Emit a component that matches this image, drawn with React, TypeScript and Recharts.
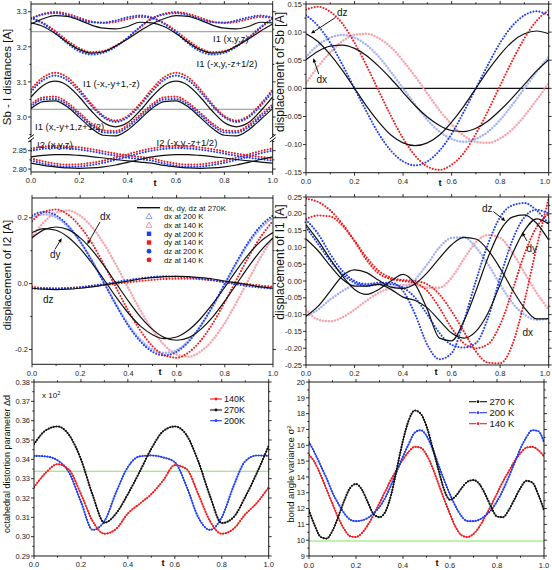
import React from "react";
import { LineChart, Line, XAxis, YAxis, ReferenceLine } from "recharts";

const FONT = "'Liberation Sans', Arial, Helvetica, sans-serif";
const RED = "#f01c1c";
const BLUE = "#1f3ff0";
const PINK = "#f6a4ad";
const LBLUE = "#a4b3f4";
const BLACK = "#111111";
const GREEN = "#86e35e";

// modulation phase t
const T21 = [0, 0.05, 0.1, 0.15, 0.2, 0.25, 0.3, 0.35, 0.4, 0.45, 0.5, 0.55, 0.6, 0.65, 0.7, 0.75, 0.8, 0.85, 0.9, 0.95, 1];
const T41 = [0, 0.025, 0.05, 0.075, 0.1, 0.125, 0.15, 0.175, 0.2, 0.225, 0.25, 0.275, 0.3, 0.325, 0.35, 0.375, 0.4, 0.425, 0.45, 0.475, 0.5, 0.525, 0.55, 0.575, 0.6, 0.625, 0.65, 0.675, 0.7, 0.725, 0.75, 0.775, 0.8, 0.825, 0.85, 0.875, 0.9, 0.925, 0.95, 0.975, 1];
const X_TICKS = [0, 0.1, 0.2, 0.3, 0.4, 0.5, 0.6, 0.7, 0.8, 0.9, 1];
const X_MAJOR = [0, 0.2, 0.4, 0.6, 0.8, 1];

// panel 1: Sb - I distances
const i1xyz_270 = [3.265, 3.28, 3.289, 3.287, 3.276, 3.262, 3.253, 3.251, 3.258, 3.27, 3.268, 3.258, 3.238, 3.213, 3.192, 3.182, 3.186, 3.202, 3.222, 3.245, 3.265];
const i1xyz_140 = [3.281, 3.294, 3.299, 3.294, 3.283, 3.272, 3.268, 3.271, 3.279, 3.285, 3.282, 3.268, 3.245, 3.218, 3.196, 3.185, 3.188, 3.203, 3.225, 3.254, 3.281];
const i1xyz_200 = [3.28, 3.292, 3.296, 3.29, 3.279, 3.27, 3.269, 3.275, 3.284, 3.289, 3.283, 3.266, 3.24, 3.21, 3.187, 3.178, 3.183, 3.2, 3.226, 3.256, 3.28];
const i1mz_270 = [3.268, 3.258, 3.238, 3.213, 3.192, 3.182, 3.186, 3.202, 3.222, 3.245, 3.265, 3.28, 3.289, 3.287, 3.276, 3.262, 3.253, 3.251, 3.258, 3.27, 3.268];
const i1mz_140 = [3.282, 3.268, 3.245, 3.218, 3.196, 3.185, 3.188, 3.203, 3.225, 3.254, 3.281, 3.294, 3.299, 3.294, 3.283, 3.272, 3.268, 3.271, 3.279, 3.285, 3.282];
const i1mz_200 = [3.283, 3.266, 3.24, 3.21, 3.187, 3.178, 3.183, 3.2, 3.226, 3.256, 3.28, 3.292, 3.296, 3.29, 3.279, 3.27, 3.269, 3.275, 3.284, 3.289, 3.283];
const i1inv_270 = [3.057, 3.09, 3.102, 3.09, 3.057, 3.017, 2.984, 2.972, 2.984, 3.017, 3.057, 3.09, 3.102, 3.09, 3.057, 3.017, 2.984, 2.972, 2.984, 3.017, 3.057];
const i1inv_140 = [3.079, 3.113, 3.126, 3.113, 3.079, 3.037, 3.003, 2.99, 3.003, 3.037, 3.079, 3.113, 3.126, 3.113, 3.079, 3.037, 3.003, 2.99, 3.003, 3.037, 3.079];
const i1inv_200 = [3.072, 3.105, 3.118, 3.105, 3.072, 3.032, 2.999, 2.986, 2.999, 3.032, 3.072, 3.105, 3.118, 3.105, 3.072, 3.032, 2.999, 2.986, 2.999, 3.032, 3.072];
const i1gl_270 = [3.024, 3.044, 3.046, 3.029, 2.999, 2.968, 2.948, 2.946, 2.963, 2.993, 3.024, 3.044, 3.046, 3.029, 2.999, 2.968, 2.948, 2.946, 2.963, 2.993, 3.024];
const i1gl_140 = [3.036, 3.056, 3.058, 3.041, 3.012, 2.982, 2.962, 2.96, 2.977, 3.006, 3.036, 3.056, 3.058, 3.041, 3.012, 2.982, 2.962, 2.96, 2.977, 3.006, 3.036];
const i1gl_200 = [3.03, 3.05, 3.051, 3.035, 3.006, 2.976, 2.956, 2.955, 2.971, 3.0, 3.03, 3.05, 3.051, 3.035, 3.006, 2.976, 2.956, 2.955, 2.971, 3.0, 3.03];
const i2xyz_270 = [2.833, 2.837, 2.839, 2.839, 2.837, 2.834, 2.83, 2.826, 2.822, 2.819, 2.816, 2.81, 2.806, 2.803, 2.802, 2.803, 2.806, 2.811, 2.818, 2.826, 2.833];
const i2xyz_140 = [2.856, 2.861, 2.863, 2.862, 2.859, 2.854, 2.848, 2.842, 2.837, 2.833, 2.829, 2.821, 2.815, 2.812, 2.813, 2.817, 2.823, 2.831, 2.84, 2.849, 2.856];
const i2xyz_200 = [2.85, 2.855, 2.857, 2.856, 2.853, 2.848, 2.842, 2.836, 2.831, 2.827, 2.823, 2.815, 2.809, 2.806, 2.807, 2.811, 2.817, 2.825, 2.834, 2.843, 2.85];
const i2mz_270 = [2.816, 2.81, 2.806, 2.803, 2.802, 2.803, 2.806, 2.811, 2.818, 2.826, 2.833, 2.837, 2.839, 2.839, 2.837, 2.834, 2.83, 2.826, 2.822, 2.819, 2.816];
const i2mz_140 = [2.829, 2.821, 2.815, 2.812, 2.813, 2.817, 2.823, 2.831, 2.84, 2.849, 2.856, 2.861, 2.863, 2.862, 2.859, 2.854, 2.848, 2.842, 2.837, 2.833, 2.829];
const i2mz_200 = [2.823, 2.815, 2.809, 2.806, 2.807, 2.811, 2.817, 2.825, 2.834, 2.843, 2.85, 2.855, 2.857, 2.856, 2.853, 2.848, 2.842, 2.836, 2.831, 2.827, 2.823];
const DIST_REF = [3.243, 3.022];
const P1_UP_TICKS = [2.95, 3.0, 3.05, 3.1, 3.15, 3.2, 3.25, 3.3];
const P1_UP_MAJOR = [3.0, 3.1, 3.2, 3.3];
const P1_LO_TICKS = [2.8, 2.825, 2.85, 2.875];
const P1_LO_MAJOR = [2.8, 2.85];

// panel 2: displacement of Sb
const sb_dz270 = [0.097, 0.083, 0.06, 0.032, 0, -0.032, -0.06, -0.083, -0.097, -0.102, -0.097, -0.083, -0.06, -0.032, 0, 0.032, 0.06, 0.083, 0.097, 0.102, 0.097];
const sb_dx270 = [0.051, 0.066, 0.075, 0.077, 0.071, 0.058, 0.039, 0.017, -0.007, -0.031, -0.051, -0.066, -0.075, -0.077, -0.071, -0.058, -0.039, -0.017, 0.007, 0.031, 0.051];
const sb_dz140 = [0.14, 0.145, 0.136, 0.115, 0.081, 0.04, -0.005, -0.049, -0.089, -0.12, -0.139, -0.145, -0.136, -0.115, -0.081, -0.04, 0.005, 0.049, 0.089, 0.12, 0.139];
const sb_dz200 = [0.13, 0.111, 0.081, 0.042, 0, -0.042, -0.081, -0.111, -0.13, -0.137, -0.13, -0.111, -0.081, -0.042, 0, 0.042, 0.081, 0.111, 0.13, 0.137, 0.13];
const sb_dx200 = [0.056, 0.077, 0.09, 0.095, 0.09, 0.077, 0.056, 0.029, 0, -0.029, -0.056, -0.077, -0.09, -0.095, -0.09, -0.077, -0.056, -0.029, 0, 0.029, 0.056];
const sb_dx140 = [0.009, 0.039, 0.064, 0.084, 0.095, 0.097, 0.089, 0.073, 0.049, 0.021, -0.009, -0.039, -0.064, -0.084, -0.095, -0.097, -0.089, -0.073, -0.049, -0.021, 0.009];
const P2_TICKS = [-0.15, -0.125, -0.1, -0.075, -0.05, -0.025, 0, 0.025, 0.05, 0.075, 0.1, 0.125, 0.15];
const P2_MAJOR = [-0.15, -0.1, -0.05, 0, 0.05, 0.1, 0.15];

// panel 3: displacement of I2
const i2_dx270 = [0.139, 0.164, 0.172, 0.164, 0.139, 0.101, 0.053, 0, -0.053, -0.101, -0.139, -0.164, -0.172, -0.164, -0.139, -0.101, -0.053, 0, 0.053, 0.101, 0.139];
const i2_dy270 = [0.155, 0.167, 0.162, 0.141, 0.106, 0.061, 0.011, -0.042, -0.09, -0.129, -0.155, -0.167, -0.162, -0.141, -0.106, -0.061, -0.011, 0.042, 0.09, 0.129, 0.155];
const i2_dz270 = [-0.014, -0.017, -0.018, -0.017, -0.014, -0.01, -0.004, 0.002, 0.008, 0.014, 0.018, 0.021, 0.022, 0.021, 0.018, 0.014, 0.008, 0.002, -0.004, -0.01, -0.014];
const i2_dx200 = [0.202, 0.21, 0.201, 0.172, 0.127, 0.069, 0.003, -0.064, -0.124, -0.17, -0.2, -0.21, -0.202, -0.173, -0.128, -0.07, -0.004, 0.063, 0.123, 0.169, 0.2];
const i2_dx140 = [0.141, 0.187, 0.215, 0.222, 0.206, 0.171, 0.119, 0.055, -0.014, -0.082, -0.141, -0.187, -0.215, -0.222, -0.206, -0.171, -0.119, -0.055, 0.014, 0.082, 0.141];
const i2_dy200 = [0.207, 0.218, 0.207, 0.176, 0.128, 0.067, 0, -0.067, -0.128, -0.176, -0.207, -0.218, -0.207, -0.176, -0.128, -0.067, 0, 0.067, 0.128, 0.176, 0.207];
const i2_dy140 = [0.19, 0.218, 0.225, 0.209, 0.173, 0.121, 0.056, -0.014, -0.083, -0.143, -0.19, -0.218, -0.225, -0.209, -0.173, -0.121, -0.056, 0.014, 0.083, 0.143, 0.19];
const i2_dz200 = [-0.015, -0.016, -0.016, -0.014, -0.011, -0.006, -0.001, 0.005, 0.011, 0.016, 0.02, 0.022, 0.021, 0.019, 0.015, 0.01, 0.004, -0.002, -0.008, -0.012, -0.015];
const i2_dz140 = [-0.01, -0.013, -0.014, -0.013, -0.011, -0.008, -0.004, 0, 0.004, 0.008, 0.011, 0.014, 0.015, 0.015, 0.013, 0.01, 0.006, 0.002, -0.002, -0.006, -0.009];
const P3_TICKS = [-0.2, -0.1, 0, 0.1, 0.2];
const P3_MAJOR = [-0.2, 0, 0.2];

// panel 4: displacement of I1
const i1_dx270 = [-0.105, -0.075, -0.03, 0.015, 0.033, 0.025, 0.002, -0.018, -0.022, -0.008, 0.025, 0.068, 0.108, 0.13, 0.125, 0.092, 0.038, -0.025, -0.08, -0.113, -0.112];
const i1_dy270 = [0.125, 0.09, 0.045, 0.005, -0.015, -0.015, -0.01, -0.025, -0.048, -0.058, -0.08, -0.118, -0.155, -0.17, -0.15, -0.095, -0.01, 0.08, 0.15, 0.185, 0.17];
const i1_dz270 = [0.168, 0.12, 0.065, 0.015, -0.025, -0.04, -0.025, 0, 0.02, -0.01, -0.085, -0.17, -0.178, -0.12, -0.03, 0.07, 0.15, 0.19, 0.197, 0.172, 0.122];
const i1_dx200 = [-0.105, -0.085, -0.055, -0.03, -0.012, -0.008, -0.01, -0.018, -0.02, 0.005, 0.05, 0.1, 0.128, 0.13, 0.1, 0.05, -0.01, -0.065, -0.1, -0.115, -0.112];
const i1_dx140 = [-0.085, -0.115, -0.12, -0.108, -0.085, -0.058, -0.035, -0.02, -0.012, -0.012, -0.02, -0.02, 0.01, 0.065, 0.115, 0.137, 0.128, 0.085, 0.025, -0.035, -0.085];
const i1_dy200 = [0.16, 0.11, 0.06, 0.02, -0.005, -0.015, -0.01, -0.01, -0.02, -0.05, -0.1, -0.155, -0.19, -0.198, -0.185, -0.11, 0.01, 0.12, 0.19, 0.212, 0.2];
const i1_dy140 = [0.185, 0.195, 0.192, 0.165, 0.118, 0.062, 0.022, 0.006, 0, -0.006, -0.03, -0.08, -0.14, -0.185, -0.2, -0.188, -0.13, -0.03, 0.08, 0.16, 0.2];
const i1_dz200 = [0.182, 0.14, 0.08, 0.03, 0, -0.01, -0.005, -0.005, -0.03, -0.1, -0.19, -0.233, -0.215, -0.12, 0, 0.11, 0.19, 0.225, 0.232, 0.21, 0.17];
const i1_dz140 = [0.245, 0.235, 0.21, 0.17, 0.12, 0.07, 0.03, 0.01, 0.003, 0, -0.01, -0.04, -0.09, -0.15, -0.21, -0.243, -0.245, -0.19, -0.06, 0.1, 0.245];
const P4_TICKS = [-0.25, -0.225, -0.2, -0.175, -0.15, -0.125, -0.1, -0.075, -0.05, -0.025, 0, 0.025, 0.05, 0.075, 0.1, 0.125, 0.15, 0.175, 0.2, 0.225, 0.25];
const P4_MAJOR = [-0.25, -0.2, -0.15, -0.1, -0.05, 0, 0.05, 0.1, 0.15, 0.2, 0.25];

// panel 5: octahedral distortion parameter
const dist_140 = [0.3256, 0.333, 0.3375, 0.3345, 0.322, 0.308, 0.3015, 0.304, 0.312, 0.317, 0.322, 0.329, 0.337, 0.335, 0.322, 0.308, 0.3015, 0.304, 0.3115, 0.3175, 0.3256];
const dist_270 = [0.3478, 0.355, 0.357, 0.3525, 0.34, 0.3215, 0.3072, 0.312, 0.322, 0.3335, 0.3455, 0.3545, 0.357, 0.3525, 0.339, 0.321, 0.307, 0.31, 0.3205, 0.333, 0.347];
const dist_200 = [0.3418, 0.3415, 0.3395, 0.333, 0.318, 0.3035, 0.308, 0.323, 0.336, 0.3415, 0.342, 0.341, 0.3385, 0.326, 0.31, 0.3035, 0.31, 0.326, 0.339, 0.342, 0.3418];
const DIST_IDEAL = 0.3338;
const P5_TICKS = [0.29, 0.295, 0.3, 0.305, 0.31, 0.315, 0.32, 0.325, 0.33, 0.335, 0.34, 0.345, 0.35, 0.355, 0.36, 0.365, 0.37, 0.375, 0.38];
const P5_MAJOR = [0.29, 0.3, 0.31, 0.32, 0.33, 0.34, 0.35, 0.36, 0.37, 0.38];

// panel 6: bond angle variance
const bav_270 = [11.88, 10.9, 10.2, 10.1, 10.6, 11.5, 12.5, 13.3, 13.55, 13.2, 12.4, 11.65, 11.45, 11.8, 12.9, 14.6, 16.3, 17.6, 18.2, 18.0, 17.2, 15.9, 14.5, 13.2, 12.55, 12.8, 13.3, 13.7, 13.8, 13.55, 12.9, 12.1, 11.5, 11.45, 11.9, 12.6, 13.3, 13.75, 13.65, 12.9, 11.9];
const bav_200 = [16.2, 15.5, 14.7, 13.9, 13.0, 12.3, 11.7, 11.3, 11.2, 11.25, 11.4, 11.7, 12.1, 12.7, 13.5, 14.4, 15.3, 16.1, 16.8, 16.95, 16.6, 15.8, 14.8, 13.8, 12.9, 12.1, 11.5, 11.2, 11.2, 11.3, 11.55, 11.9, 12.45, 13.15, 14.0, 14.9, 15.8, 16.5, 16.95, 16.9, 16.2];
const bav_140 = [15.4, 14.9, 14.1, 13.2, 12.3, 11.4, 10.7, 10.25, 10.2, 10.45, 10.95, 11.6, 12.35, 13.1, 13.85, 14.5, 15.1, 15.6, 15.9, 15.85, 15.4, 14.6, 13.6, 12.6, 11.65, 10.8, 10.3, 10.2, 10.4, 10.85, 11.5, 12.2, 12.95, 13.7, 14.35, 15.0, 15.5, 15.85, 15.9, 15.7, 15.3];
const BAV_IDEAL = 9.95;
const P6_TICKS = [9, 9.5, 10, 10.5, 11, 11.5, 12, 12.5, 13, 13.5, 14, 14.5, 15, 15.5, 16, 16.5, 17, 17.5, 18, 18.5, 19, 19.5, 20];
const P6_MAJOR = [9, 10, 11, 12, 13, 14, 15, 16, 17, 18, 19, 20];

function rows(t: number[], cols: Record<string, number[]>) {
  return t.map((tv, i) => {
    const r: Record<string, number> = { t: tv };
    for (const k in cols) r[k] = cols[k][i];
    return r;
  });
}

const p1UpData = rows(T21, { i1xyz_270, i1xyz_140, i1xyz_200, i1mz_270, i1mz_140, i1mz_200, i1inv_270, i1inv_140, i1inv_200, i1gl_270, i1gl_140, i1gl_200 });
const p1LoData = rows(T21, { i2xyz_270, i2xyz_140, i2xyz_200, i2mz_270, i2mz_140, i2mz_200 });
const p2Data = rows(T21, { sb_dz270, sb_dx270, sb_dz140, sb_dz200, sb_dx200, sb_dx140 });
const p3Data = rows(T21, { i2_dx270, i2_dy270, i2_dz270, i2_dx200, i2_dx140, i2_dy200, i2_dy140, i2_dz200, i2_dz140 });
const p4Data = rows(T21, { i1_dx270, i1_dy270, i1_dz270, i1_dx200, i1_dx140, i1_dy200, i1_dy140, i1_dz200, i1_dz140 });
const p5Data = rows(T21, { dist_140, dist_270, dist_200 });
const p6Data = rows(T41, { bav_270, bav_200, bav_140 });

const near = (v: number, arr: number[]) => arr.some((m) => Math.abs(m - v) < 1e-7);
const f1 = (v: number) => v.toFixed(1);
const f2 = (v: number) => v.toFixed(2);
const f0 = (v: number) => v.toFixed(0);

function tickFn(side: string, major: number[], fmt: ((v: number) => string) | null, fs = 7.5, maxX = 9999) {
  return (p: any) => {
    const v = p.payload.value;
    const big = near(v, major);
    const len = big ? 3 : 1.7;
    let line;
    let label = null;
    if (side === "bottom" || side === "top") {
      const d = side === "bottom" ? 1 : -1;
      line = <line x1={p.x} x2={p.x} y1={p.y} y2={p.y + d * len} stroke="#000" strokeWidth={0.8} />;
      if (fmt && big)
        label = (
          <text x={Math.min(p.x, maxX)} y={p.y + 11.5} textAnchor="middle" fontSize={fs} fontFamily={FONT} fill="#222">
            {fmt(v)}
          </text>
        );
    } else {
      const d = side === "right" ? 1 : -1;
      line = <line x1={p.x} x2={p.x + d * len} y1={p.y} y2={p.y} stroke="#000" strokeWidth={0.8} />;
      if (fmt && big)
        label = (
          <text x={p.x - 4} y={p.y + 2.7} textAnchor="end" fontSize={fs} fontFamily={FONT} fill="#222">
            {fmt(v)}
          </text>
        );
    }
    return (
      <g>
        {line}
        {label}
      </g>
    );
  };
}

type Box = { x: number; y: number; w: number; h: number };
const LW = 28;
const RW = 8;
const TH = 5;
const BH = 16;
const PAGE_W = 552;

function Panel(props: {
  box: Box;
  data: any[];
  yDomain: [number, number];
  yTicks: number[];
  yMajor: number[];
  yFmt: (v: number) => string;
  yFont?: number;
  top?: boolean;
  bottom?: boolean;
  children: React.ReactNode;
}) {
  const { box, data, yDomain, yTicks, yMajor, yFmt } = props;
  const top = props.top !== false;
  const bottom = props.bottom !== false;
  const left = box.x - LW;
  const width = LW + box.w + RW;
  const height = (top ? TH : 0) + box.h + (bottom ? BH : 0);
  // keep the last x label inside the page
  const maxX = PAGE_W - left - 7;
  return (
    <div style={{ position: "absolute", left, top: box.y - (top ? TH : 0) }}>
      <LineChart width={width} height={height} data={data} margin={{ top: 0, right: 0, bottom: 0, left: 0 }}>
        <XAxis
          xAxisId={0}
          type="number"
          dataKey="t"
          domain={[0, 1]}
          ticks={X_TICKS}
          interval={0}
          allowDataOverflow
          hide={!bottom}
          height={BH}
          tickSize={0}
          tickMargin={0}
          tickLine={false}
          axisLine={{ stroke: "#000", strokeWidth: 0.9 }}
          tick={tickFn("bottom", X_MAJOR, f1, 7.5, maxX)}
        />
        <XAxis
          xAxisId="top"
          orientation="top"
          type="number"
          dataKey="t"
          domain={[0, 1]}
          ticks={X_TICKS}
          interval={0}
          allowDataOverflow
          hide={!top}
          height={TH}
          tickSize={0}
          tickMargin={0}
          tickLine={false}
          axisLine={{ stroke: "#000", strokeWidth: 0.9 }}
          tick={tickFn("top", X_MAJOR, null)}
        />
        <YAxis
          yAxisId={0}
          type="number"
          domain={yDomain}
          ticks={yTicks}
          interval={0}
          allowDataOverflow
          width={LW}
          tickSize={0}
          tickMargin={0}
          tickLine={false}
          axisLine={{ stroke: "#000", strokeWidth: 0.9 }}
          tick={tickFn("left", yMajor, yFmt, props.yFont || 7.5)}
        />
        <YAxis
          yAxisId="right"
          orientation="right"
          type="number"
          domain={yDomain}
          ticks={yTicks}
          interval={0}
          allowDataOverflow
          width={RW}
          tickSize={0}
          tickMargin={0}
          tickLine={false}
          axisLine={{ stroke: "#000", strokeWidth: 0.9 }}
          tick={tickFn("right", yMajor, null)}
        />
        {props.children}
      </LineChart>
    </div>
  );
}

const dotted = (key: string, color: string, w = 2.1, gap = 3) => (
  <Line
    key={key}
    dataKey={key}
    type="monotone"
    stroke={color}
    strokeWidth={w}
    strokeDasharray={`0 ${gap}`}
    strokeLinecap="round"
    dot={false}
    activeDot={false}
    isAnimationActive={false}
  />
);

const solid = (key: string, color = BLACK, w = 1.2) => (
  <Line key={key} dataKey={key} type="monotone" stroke={color} strokeWidth={w} dot={false} activeDot={false} isAnimationActive={false} />
);

const marked = (key: string, color: string) => [
  solid(key, color, 0.9),
  <Line
    key={key + "_m"}
    dataKey={key}
    type="monotone"
    stroke={color}
    strokeWidth={2.2}
    strokeDasharray="0 2.7"
    strokeLinecap="round"
    dot={false}
    activeDot={false}
    isAnimationActive={false}
  />,
];

function Arrow({ x1, y1, x2, y2 }: { x1: number; y1: number; x2: number; y2: number }) {
  const a = Math.atan2(y2 - y1, x2 - x1);
  const s = 4;
  const w = 1.8;
  const bx = x2 - s * Math.cos(a);
  const by = y2 - s * Math.sin(a);
  const pts = `${x2},${y2} ${bx - w * Math.sin(a)},${by + w * Math.cos(a)} ${bx + w * Math.sin(a)},${by - w * Math.cos(a)}`;
  return (
    <g>
      <line x1={x1} y1={y1} x2={bx} y2={by} stroke="#000" strokeWidth={0.9} />
      <polygon points={pts} fill="#000" />
    </g>
  );
}

const txt = { fontFamily: FONT, fill: "#111" };

function Overlay() {
  const legRows = [207.7, 216.4, 225.1, 233.8, 242.5, 251.2, 259.9];
  const legText = ["dx, dy, dz at 270K", "dx at 200 K", "dx at 140 K", "dy at 200 K", "dy at 140 K", "dz at 200 K", "dz at 140 K"];
  const tri = (cx: number, cy: number, c: string) => (
    <polygon points={`${cx},${cy - 3} ${cx - 3},${cy + 2.2} ${cx + 3},${cy + 2.2}`} fill="none" stroke={c} strokeWidth={0.9} />
  );
  const p5Leg = [
    { y: 399, c: RED, t: "140K" },
    { y: 410, c: BLACK, t: "270K" },
    { y: 420.7, c: BLUE, t: "200K" },
  ];
  const p6Leg = [
    { y: 401.7, c: BLACK, t: "270 K" },
    { y: 412.7, c: BLUE, t: "200 K" },
    { y: 423.7, c: RED, t: "140 K" },
  ];
  return (
    <svg width={552} height={570} style={{ position: "absolute", left: 0, top: 0, pointerEvents: "none" }}>
      {/* axis break marks */}
      {[31, 272.7].map((x) => (
        <g key={x}>
          <rect x={x - 4} y={137.3} width={8} height={2.4} fill="#fff" />
          <line x1={x - 3} y1={139} x2={x + 3} y2={134.5} stroke="#000" strokeWidth={0.9} />
          <line x1={x - 3} y1={142.2} x2={x + 3} y2={137.7} stroke="#000" strokeWidth={0.9} />
        </g>
      ))}

      {/* axis titles */}
      <text transform="translate(11,77) rotate(-90)" textAnchor="middle" fontSize={11.5} {...txt}>Sb - I  distances [A]</text>
      <text transform="translate(284.3,72) rotate(-90)" textAnchor="middle" fontSize={12} {...txt}>displacement of Sb [A]</text>
      <text transform="translate(10.5,275) rotate(-90)" textAnchor="middle" fontSize={11.5} {...txt}>displacement of I2 [A]</text>
      <text transform="translate(284.3,262) rotate(-90)" textAnchor="middle" fontSize={12} {...txt}>displacement of I1 [A]</text>
      <text transform="translate(9.5,464) rotate(-90)" textAnchor="middle" fontSize={9} {...txt}>octahedral distortion parameter Δd</text>
      <text transform="translate(294,474) rotate(-90)" textAnchor="middle" fontSize={9.5} {...txt}>
        bond angle variance σ<tspan dy={-3} fontSize={6}>2</tspan>
      </text>

      {/* t labels */}
      {[
        [155, 185.5],
        [440, 185.5],
        [160, 374.5],
        [436, 374.5],
        [163, 566],
        [437, 566],
      ].map(([x, y], i) => (
        <text key={i} x={x} y={y} fontSize={9.5} fontWeight="bold" textAnchor="middle" {...txt}>t</text>
      ))}

      {/* panel 1 labels */}
      <text x={213} y={42} fontSize={9.5} {...txt}>I1 (x,y,z)</text>
      <text x={196.5} y={67} fontSize={9.5} {...txt}>I1 (-x,y,-z+1/2)</text>
      <text x={83} y={87} fontSize={9.5} {...txt}>I1 (-x,-y+1,-z)</text>
      <text x={35} y={130} fontSize={9.5} {...txt}>I1 (x,-y+1,z+1/2)</text>
      <text x={37} y={147.5} fontSize={9.5} {...txt}>I2 (x,y,z)</text>
      <text x={156.5} y={146} fontSize={9.5} {...txt}>I2 (-x,y,-z+1/2)</text>

      {/* panel 2 labels */}
      <text x={337} y={16} fontSize={10} {...txt}>dz</text>
      <Arrow x1={335.5} y1={17.5} x2={311} y2={33.5} />
      <text x={316.5} y={83} fontSize={10} {...txt}>dx</text>
      <Arrow x1={318.7} y1={74} x2={313.3} y2={58.3} />

      {/* panel 3 labels */}
      <text x={100} y={220} fontSize={10} {...txt}>dx</text>
      <Arrow x1={100} y1={222} x2={87.3} y2={244.3} />
      <text x={50} y={258} fontSize={10} {...txt}>dy</text>
      <Arrow x1={55} y1={249.3} x2={61.7} y2={238.3} />
      <text x={43} y={303} fontSize={10} {...txt}>dz</text>

      {/* panel 3 legend */}
      <line x1={137} x2={160} y1={legRows[0]} y2={legRows[0]} stroke={BLACK} strokeWidth={1.4} />
      {tri(149, legRows[1], "#8096f2")}
      {tri(149, legRows[2], "#f28a97")}
      <rect x={146.8} y={legRows[3] - 2.2} width={4.4} height={4.4} fill={BLUE} />
      <rect x={146.8} y={legRows[4] - 2.2} width={4.4} height={4.4} fill={RED} />
      <circle cx={149} cy={legRows[5]} r={2.4} fill={BLUE} />
      <circle cx={149} cy={legRows[6]} r={2.4} fill={RED} />
      {legText.map((s, i) => (
        <text key={s} x={164} y={legRows[i] + 2.8} fontSize={7.8} {...txt}>{s}</text>
      ))}

      {/* panel 4 labels */}
      <text x={482} y={211.5} fontSize={10} {...txt}>dz</text>
      <Arrow x1={493.3} y1={211.5} x2={505.3} y2={221} />
      <text x={526.5} y={251.5} fontSize={10} {...txt}>dy</text>
      <Arrow x1={527} y1={241} x2={522} y2={232.3} />
      <text x={522.5} y={335.5} fontSize={10} {...txt}>dx</text>

      {/* panel 5 */}
      <text x={42} y={397.5} fontSize={8} {...txt}>
        x 10<tspan dy={-3} fontSize={5.5}>2</tspan>
      </text>
      {p5Leg.map((r) => (
        <g key={r.t}>
          <line x1={210} x2={222} y1={r.y} y2={r.y} stroke={r.c} strokeWidth={1.1} />
          <circle cx={216} cy={r.y} r={1.4} fill={r.c} />
          <text x={224} y={r.y + 3.2} fontSize={9} {...txt}>{r.t}</text>
        </g>
      ))}

      {/* panel 6 */}
      {p6Leg.map((r) => (
        <g key={r.t}>
          <line x1={469} x2={476} y1={r.y} y2={r.y} stroke={r.c} strokeWidth={1.1} />
          <line x1={480} x2={487} y1={r.y} y2={r.y} stroke={r.c} strokeWidth={1.1} />
          <circle cx={478} cy={r.y} r={1.4} fill={r.c} />
          <text x={489.5} y={r.y + 3.3} fontSize={9.5} {...txt}>{r.t}</text>
        </g>
      ))}
    </svg>
  );
}

export default function App() {
  return (
    <div style={{ position: "absolute", left: 0, top: 0, width: 552, height: 570, background: "#fff", overflow: "hidden", fontFamily: FONT }}>
      {/* panel 1, upper part */}
      <Panel box={{ x: 31, y: 4, w: 241.7, h: 133 }} data={p1UpData} yDomain={[2.943, 3.322]} yTicks={P1_UP_TICKS} yMajor={P1_UP_MAJOR} yFmt={f1} bottom={false}>
        {DIST_REF.map((v) => (
          <ReferenceLine key={v} y={v} stroke="#8e8e8e" strokeWidth={1} ifOverflow="hidden" />
        ))}
        {dotted("i1xyz_140", RED)}
        {dotted("i1xyz_200", BLUE)}
        {dotted("i1mz_140", RED)}
        {dotted("i1mz_200", BLUE)}
        {dotted("i1inv_140", RED)}
        {dotted("i1inv_200", BLUE)}
        {dotted("i1gl_140", RED)}
        {dotted("i1gl_200", BLUE)}
        {solid("i1xyz_270")}
        {solid("i1mz_270")}
        {solid("i1inv_270")}
        {solid("i1gl_270")}
      </Panel>
      {/* panel 1, lower part */}
      <Panel box={{ x: 31, y: 140, w: 241.7, h: 32 }} data={p1LoData} yDomain={[2.792, 2.879]} yTicks={P1_LO_TICKS} yMajor={P1_LO_MAJOR} yFmt={f2} top={false}>
        {dotted("i2xyz_140", RED)}
        {dotted("i2xyz_200", BLUE)}
        {dotted("i2mz_140", RED)}
        {dotted("i2mz_200", BLUE)}
        {solid("i2xyz_270")}
        {solid("i2mz_270")}
      </Panel>

      {/* panel 2 */}
      <Panel box={{ x: 306, y: 4, w: 242.7, h: 168.7 }} data={p2Data} yDomain={[-0.15, 0.15]} yTicks={P2_TICKS} yMajor={P2_MAJOR} yFmt={f2}>
        <ReferenceLine y={0} stroke={BLACK} strokeWidth={1.2} />
        {dotted("sb_dx140", PINK, 2.5)}
        {dotted("sb_dx200", LBLUE, 2.5)}
        {dotted("sb_dz140", RED)}
        {dotted("sb_dz200", BLUE)}
        {solid("sb_dz270")}
        {solid("sb_dx270")}
      </Panel>

      {/* panel 3 */}
      <Panel box={{ x: 31.7, y: 197.7, w: 241, h: 166.3 }} data={p3Data} yDomain={[-0.245, 0.26]} yTicks={P3_TICKS} yMajor={P3_MAJOR} yFmt={f1}>
        {dotted("i2_dx140", PINK, 2.5)}
        {dotted("i2_dx200", LBLUE, 2.5)}
        {dotted("i2_dy140", RED)}
        {dotted("i2_dy200", BLUE)}
        {dotted("i2_dz140", RED)}
        {dotted("i2_dz200", BLUE)}
        {solid("i2_dx270")}
        {solid("i2_dy270")}
        {solid("i2_dz270")}
      </Panel>

      {/* panel 4 */}
      <Panel box={{ x: 306, y: 197.3, w: 242.7, h: 168 }} data={p4Data} yDomain={[-0.25, 0.25]} yTicks={P4_TICKS} yMajor={P4_MAJOR} yFmt={f2}>
        {dotted("i1_dx140", PINK, 2.5)}
        {dotted("i1_dx200", LBLUE, 2.5)}
        {dotted("i1_dy140", RED)}
        {dotted("i1_dz140", RED)}
        {dotted("i1_dy200", BLUE)}
        {dotted("i1_dz200", BLUE)}
        {solid("i1_dx270")}
        {solid("i1_dy270")}
        {solid("i1_dz270")}
      </Panel>

      {/* panel 5 */}
      <Panel box={{ x: 34, y: 382.3, w: 234.7, h: 174 }} data={p5Data} yDomain={[0.29, 0.38]} yTicks={P5_TICKS} yMajor={P5_MAJOR} yFmt={f2}>
        <ReferenceLine y={DIST_IDEAL} stroke={GREEN} strokeWidth={1.1} />
        {marked("dist_200", BLUE)}
        {marked("dist_270", BLACK)}
        {marked("dist_140", RED)}
      </Panel>

      {/* panel 6 */}
      <Panel box={{ x: 308.7, y: 382.3, w: 235, h: 174 }} data={p6Data} yDomain={[9, 20]} yTicks={P6_TICKS} yMajor={P6_MAJOR} yFmt={f0} yFont={7.5}>
        <ReferenceLine y={BAV_IDEAL} stroke={GREEN} strokeWidth={1.1} />
        {marked("bav_140", RED)}
        {marked("bav_200", BLUE)}
        {marked("bav_270", BLACK)}
      </Panel>

      <Overlay />
    </div>
  );
}
